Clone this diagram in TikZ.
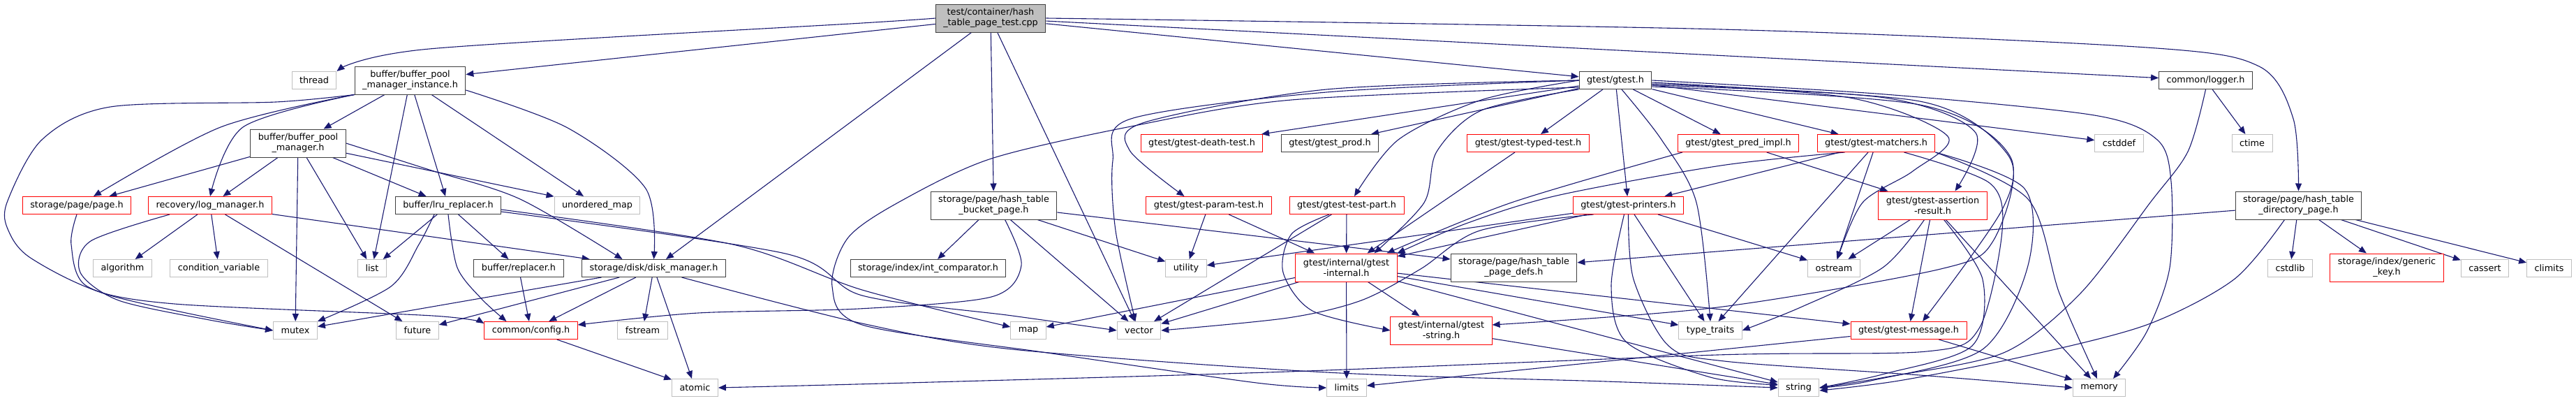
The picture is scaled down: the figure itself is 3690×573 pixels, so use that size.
\documentclass[tikz,border=0pt]{standalone}
\usepackage{fontspec}
\setmainfont{DejaVu Sans}
\usepackage{xcolor}
\definecolor{dgedge}{HTML}{191970}
\definecolor{dgsys}{HTML}{BFBFBF}
\definecolor{dgdoc}{HTML}{404040}
\definecolor{dgtrunc}{HTML}{FF0000}
\definecolor{dgroot}{HTML}{BFBFBF}
\usepackage{tikz}
\usetikzlibrary{arrows.meta,backgrounds}

\begin{document}
\begin{tikzpicture}[x=1pt,y=-1pt,
  hdr/.style={draw=dgdoc,fill=white,line width=1pt,minimum height=25pt,inner xsep=11pt,inner ysep=0pt,align=center,font=\fontsize{12.8}{15}\selectfont},
  sys/.style={hdr,draw=dgsys},
  trunc/.style={hdr,draw=dgtrunc},
  tall/.style={minimum height=40pt},
  inc/.style={draw=dgedge,line width=1.1pt,-{Triangle[length=11pt,width=9pt]}}]
\useasboundingbox (0,0) rectangle (3690,573);

\node[hdr,tall,fill=dgroot] (root) at (1419,26) {test/container/hash\\\_table\_page\_test.cpp};
\node[sys] (thread) at (450,115) {thread};
\node[hdr,tall] (bpmi) at (587.5,115) {buffer/buffer\_pool\\\_manager\_instance.h};
\node[hdr] (gtest) at (2314,115) {gtest/gtest.h};
\node[hdr] (logger) at (3159.5,115) {common/logger.h};
\node[hdr,tall] (bpm) at (427,205) {buffer/buffer\_pool\\\_manager.h};
\node[trunc] (death) at (1721.5,205) {gtest/gtest-death-test.h};
\node[hdr] (prod) at (1905,205) {gtest/gtest\_prod.h};
\node[trunc] (typed) at (2189,205) {gtest/gtest-typed-test.h};
\node[trunc] (pred) at (2490,205) {gtest/gtest\_pred\_impl.h};
\node[trunc] (matchers) at (2687.5,205) {gtest/gtest-matchers.h};
\node[sys] (cstddef) at (3035.5,205) {cstddef};
\node[sys] (ctime) at (3226,205) {ctime};
\node[trunc] (page) at (110,294) {storage/page/page.h};
\node[trunc] (logm) at (301,294) {recovery/log\_manager.h};
\node[hdr] (lru) at (642,294) {buffer/lru\_replacer.h};
\node[sys] (umap) at (855.5,294) {unordered\_map};
\node[hdr,tall] (bucket) at (1423.5,294) {storage/page/hash\_table\\\_bucket\_page.h};
\node[trunc] (param) at (1731.5,294) {gtest/gtest-param-test.h};
\node[trunc] (testpart) at (1929,294) {gtest/gtest-test-part.h};
\node[trunc] (printers) at (2332.5,294) {gtest/gtest-printers.h};
\node[trunc,tall] (assertion) at (2768.5,294) {gtest/gtest-assertion\\-result.h};
\node[hdr,tall] (dirpage) at (3292.5,294) {storage/page/hash\_table\\\_directory\_page.h};
\node[sys] (algorithm) at (175.5,384) {algorithm};
\node[sys] (condvar) at (313.5,384) {condition\_variable};
\node[sys] (list) at (533,384) {list};
\node[hdr] (replacer) at (743,384) {buffer/replacer.h};
\node[hdr] (diskm) at (936.5,384) {storage/disk/disk\_manager.h};
\node[hdr] (intcmp) at (1329.5,384) {storage/index/int\_comparator.h};
\node[sys] (utility) at (1699,384) {utility};
\node[trunc,tall] (internal) at (1928.5,383) {gtest/internal/gtest\\-internal.h};
\node[hdr,tall] (pagedefs) at (2168.5,383) {storage/page/hash\_table\\\_page\_defs.h};
\node[sys] (ostream) at (2627,384) {ostream};
\node[sys] (cstdlib) at (3280.5,384) {cstdlib};
\node[trunc,tall] (generickey) at (3419,383) {storage/index/generic\\\_key.h};
\node[sys] (cassert) at (3559.5,384) {cassert};
\node[sys] (climits) at (3651.5,384) {climits};
\node[sys] (mutex) at (423,473) {mutex};
\node[sys] (future) at (598,473) {future};
\node[trunc] (config) at (760.5,473) {common/config.h};
\node[sys] (fstream) at (920.5,473) {fstream};
\node[sys] (map) at (1473,473) {map};
\node[sys] (vector) at (1631.5,473) {vector};
\node[trunc,tall] (gstring) at (2064.5,473) {gtest/internal/gtest\\-string.h};
\node[sys] (typetraits) at (2450,473) {type\_traits};
\node[trunc] (message) at (2734,473) {gtest/gtest-message.h};
\node[sys] (atomic) at (995.5,555) {atomic};
\node[sys] (limits) at (1929,555) {limits};
\node[sys] (string) at (2576.5,555) {string};
\node[sys] (memory) at (3007,555) {memory};

\begin{scope}[on background layer]
\foreach \a/\b in {root/bpmi, root/diskm, root/bucket, root/vector, root/gtest, root/logger,
  bpmi/bpm, bpmi/list, bpmi/lru, bpmi/umap,
  bpm/page, bpm/logm, bpm/mutex, bpm/list, bpm/lru, bpm/umap,
  logm/algorithm, logm/condvar, logm/future, logm/diskm,
  lru/list, lru/replacer, replacer/config,
  diskm/mutex, diskm/future, diskm/config, diskm/fstream, diskm/atomic, config/atomic,
  bucket/intcmp, bucket/vector, bucket/utility,
  gtest/death, gtest/prod, gtest/typed, gtest/pred, gtest/matchers, gtest/printers, gtest/cstddef,
  typed/internal, pred/assertion, matchers/printers, matchers/ostream, matchers/typetraits,
  param/utility, param/internal, testpart/internal, testpart/vector,
  printers/internal, printers/utility, printers/ostream, printers/typetraits,
  assertion/ostream, assertion/message, assertion/memory,
  internal/map, internal/vector, internal/limits, internal/gstring, internal/typetraits, internal/string, internal/message,
  gstring/string, message/limits, message/memory,
  logger/ctime, dirpage/cstdlib, dirpage/generickey, dirpage/cassert, dirpage/climits, dirpage/pagedefs}
  \draw[inc] (\a) -- (\b);

\draw[inc] plot[smooth] coordinates {(root.west) (1235,33) (615,70) (thread.north east)};
\draw[inc] plot[smooth] coordinates {(root.east) (2465,42) (3075,68) (3236,95) (3285,170) (dirpage.north)};
\draw[inc] plot[smooth] coordinates {(bpmi.south west) (395,146) (158,153) (60,200) (10,290) (12,330) (45,370) (158,423) (mutex.west)};
\draw[inc] plot[smooth] coordinates {(bpmi.south west) (316,182) ([xshift=24pt]page.north)};
\draw[inc] plot[smooth] coordinates {(bpmi.south west) (348,182) (logm.north)};
\draw[inc] plot[smooth] coordinates {([yshift=-14pt]bpmi.east) (813,183) (925,270) (diskm.north)};
\draw[inc] plot[smooth] coordinates {(bpm.east) (615,243) (745,285) ([xshift=-45pt]diskm.north)};
\draw[inc] plot[smooth] coordinates {(page.south) (102,350) (125,410) (250,435) (620,452) ([yshift=10pt]config.west)};
\draw[inc] plot[smooth] coordinates {([xshift=-58pt]logm.south) (130,345) (115,390) (170,430) (300,458) (mutex.west)};
\draw[inc] plot[smooth] coordinates {([xshift=-20pt]lru.south) (600,350) (560,410) (mutex.north east)};
\draw[inc] plot[smooth] coordinates {(lru.south) (655,383) (690,428) ([xshift=-35pt]config.north)};
\draw[inc] plot[smooth] coordinates {([yshift=-6pt]lru.east) (1050,350) (1235,415) ([yshift=5pt]map.west)};
\draw[inc] plot[smooth] coordinates {([yshift=-9pt]lru.east) (1125,363) (1235,423) (1450,452) (vector.west)};
\draw[inc] plot[smooth] coordinates {([xshift=40pt]diskm.south) (1235,463) (1450,500) (1900,533) (2300,546) (string.west)};
\draw[inc] plot[smooth] coordinates {([xshift=16pt]bucket.south) (1463,380) (1420,425) (1230,442) (1000,448) ([yshift=8pt]config.east)};
\draw[inc] ([yshift=-10pt]bucket.east) -- ([yshift=12pt]pagedefs.west);
\draw[inc] plot[smooth] coordinates {(gtest.west) (1900,128) (1640,175) (1618,215) ([xshift=-35pt]param.north)};
\draw[inc] plot[smooth] coordinates {(gtest.west) (1900,132) (1620,170) (1594,230) (1598,330) ([xshift=-5pt]vector.north)};
\draw[inc] plot[smooth] coordinates {(gtest.west) (2122,143) (2003,200) ([xshift=11pt]testpart.north)};
\draw[inc] plot[smooth] coordinates {(gtest.south west) (2122,158) (2058,217) (2040,290) ([xshift=40pt]internal.north)};
\draw[inc] plot[smooth] coordinates {([xshift=9pt]gtest.south) (2380,200) (2430,290) (typetraits.north)};
\draw[inc] plot[smooth] coordinates {([yshift=-10pt]gtest.west) (1850,143) (1625,180) (1420,227) (1290,288) (1215,340) (1192,410) (1235,465) (1500,505) (1800,548) (limits.west)};
\draw[inc] plot[smooth] coordinates {(gtest.east) (2700,135) (3000,165) (3090,200) (3110,260) (3108,383) (3075,475) ([xshift=20pt]memory.north)};
\draw[inc] plot[smooth] coordinates {([yshift=-3pt]gtest.east) (2650,140) (2790,195) (2740,245) (2668,290) ([xshift=5pt]ostream.north)};
\draw[inc] plot[smooth] coordinates {([yshift=-5pt]gtest.east) (2700,140) (2830,190) ([xshift=32pt]assertion.north)};
\draw[inc] plot[smooth] coordinates {([yshift=-7pt]gtest.east) (2750,145) (2875,220) (2868,300) ([xshift=20pt]message.north)};
\draw[inc] plot[smooth] coordinates {([yshift=-9pt]gtest.east) (2750,150) (2880,225) (2855,345) (2780,385) (2460,440) ([yshift=8pt]gstring.east)};
\draw[inc] plot[smooth] coordinates {([xshift=-45pt]matchers.south) (2465,237) (2230,280) (2100,320) (internal.north east)};
\draw[inc] plot[smooth] coordinates {(matchers.south east) (2900,270) (2905,380) (2840,500) (2680,545) (string.east)};
\draw[inc] plot[smooth] coordinates {(matchers.south east) (2905,285) (2950,420) ([xshift=-3pt]memory.north)};
\draw[inc] plot[smooth] coordinates {([xshift=40pt]matchers.south) (2850,262) (2868,330) (2835,470) (2760,503) (2460,508) (1845,532) (1300,548) (atomic.east)};
\draw[inc] plot[smooth] coordinates {([xshift=-80pt]pred.south) (2165,290) ([xshift=58pt]internal.north)};
\draw[inc] plot[smooth] coordinates {([xshift=-50pt]printers.south) (2120,330) (2035,385) (1950,430) (1845,455) (vector.east)};
\draw[inc] plot[smooth] coordinates {([xshift=-6pt]printers.south) (2308,410) (2330,490) (2450,540) ([yshift=4pt]string.west)};
\draw[inc] plot[smooth] coordinates {(printers.south) (2340,400) (2390,495) (2470,517) (2750,537) (memory.west)};
\draw[inc] plot[smooth] coordinates {([xshift=-12pt]assertion.south) (2697,383) (2579,440) (typetraits.east)};
\draw[inc] plot[smooth] coordinates {([xshift=16pt]assertion.south) (2840,400) (2825,495) (2700,535) (string.east)};
\draw[inc] plot[smooth] coordinates {([xshift=-25pt]testpart.south) (1850,335) (1838,390) (1880,445) (gstring.west)};
\draw[inc] plot[smooth] coordinates {(logger.south) (3134,217) (3080,290) (2980,420) (2870,505) (2700,540) (string.east)};
\draw[inc] plot[smooth] coordinates {([xshift=-20pt]dirpage.south) (3200,400) (3075,465) (2900,510) (2720,545) ([yshift=-4pt]string.east)};
\end{scope}
\end{tikzpicture}
\end{document}
